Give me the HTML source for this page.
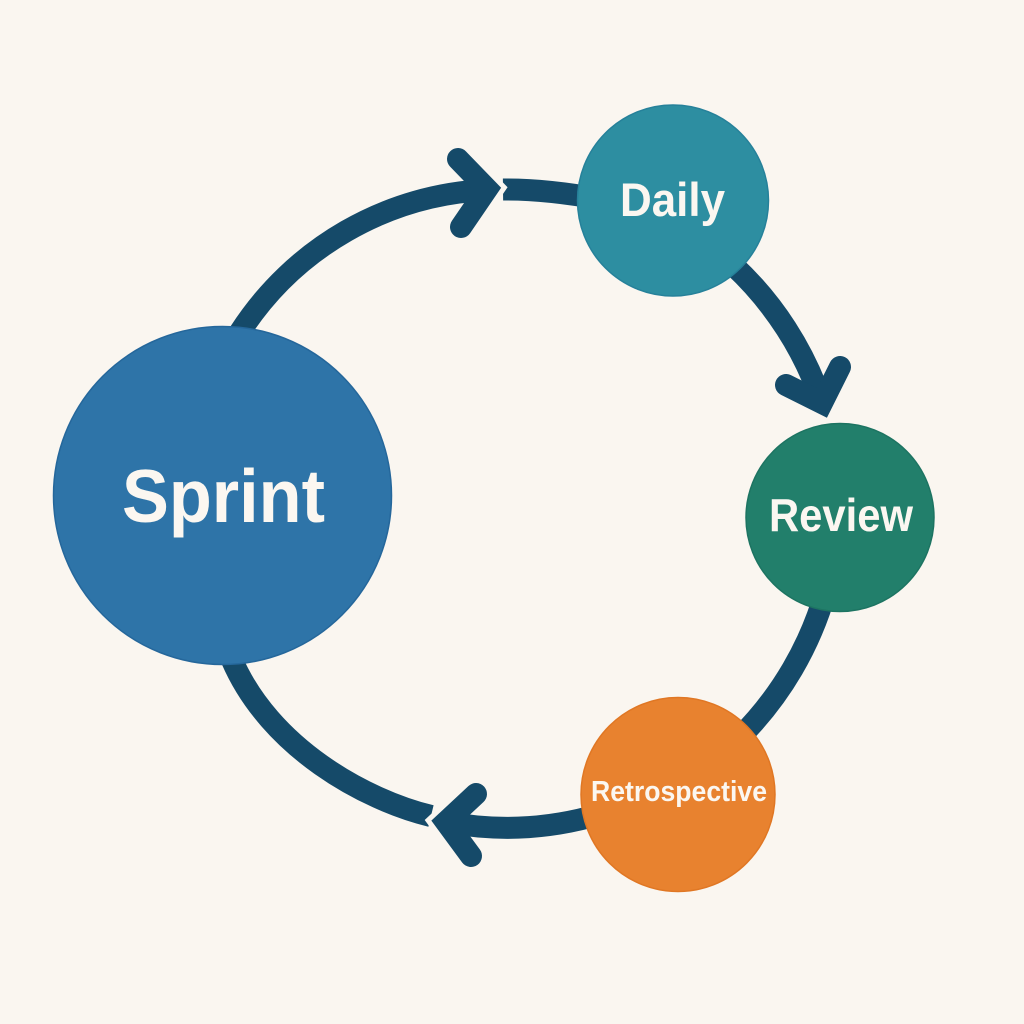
<!DOCTYPE html>
<html>
<head>
<meta charset="utf-8">
<style>
  html, body { margin:0; padding:0; background:#FAF6F0; }
  svg { display:block; }
  text { font-family: "Liberation Sans", "DejaVu Sans", sans-serif; font-weight:bold; fill:#FBF7F1; }
</style>
</head>
<body>
<svg width="1024" height="1024" viewBox="0 0 1024 1024" xmlns="http://www.w3.org/2000/svg">
  <rect width="1024" height="1024" fill="#FAF6F0"/>

  <g fill="none" stroke="#154A69" stroke-width="22">
    <!-- segment after top arrowhead to Daily -->
    <path d="M 503 189.5 Q 545 189 600 199"/>
    <!-- segment after bottom arrowhead to Sprint -->
    <path d="M 431 816 C 365 800, 270 748, 232 660"/>
  </g>

  <!-- halos to create notch gaps -->
  <g fill="none" stroke="#FAF6F0" stroke-width="32" stroke-linejoin="miter" stroke-miterlimit="10" stroke-linecap="round">
    <polyline points="458,159 487,189 461,227"/>
    <polyline points="476,794 446,822 471,856"/>
  </g>

  <g fill="none" stroke="#154A69" stroke-width="22">
    <!-- A: Sprint top to top arrowhead -->
    <path d="M 240 332 A 311 311 0 0 1 487 190"/>
    <!-- C: Daily to Review arrowhead -->
    <path d="M 733 265 A 333 333 0 0 1 822 403"/>
    <!-- D: Review to Retrospective -->
    <path d="M 826 590 A 336 336 0 0 1 740 737"/>
    <!-- E: Retrospective to bottom arrowhead -->
    <path d="M 590 817 A 327 327 0 0 1 446 822"/>
  </g>

  <!-- arrowheads -->
  <g fill="none" stroke="#154A69" stroke-width="22" stroke-linejoin="miter" stroke-miterlimit="10" stroke-linecap="round">
    <polyline points="458,159 487,189 461,227"/>
    <polyline points="840,367 822,403 786,385"/>
    <polyline points="476,794 446,822 471,856"/>
  </g>

  <!-- circles -->
  <circle cx="222.5" cy="495.5" r="169" fill="#2E74A8" stroke="#25679B" stroke-width="1.5"/>
  <circle cx="673" cy="200.5" r="95.5" fill="#2D8EA1" stroke="#26819A" stroke-width="1.5"/>
  <circle cx="840" cy="517.5" r="94" fill="#227F6B" stroke="#1D7462" stroke-width="1.5"/>
  <circle cx="678" cy="794.5" r="97" fill="#E8822F" stroke="#E07724" stroke-width="1.5"/>

  <!-- labels -->
  <text x="122" y="522" font-size="75" textLength="203" lengthAdjust="spacingAndGlyphs">Sprint</text>
  <text x="620" y="216" font-size="47" textLength="105" lengthAdjust="spacingAndGlyphs">Daily</text>
  <text x="769" y="531" font-size="46" textLength="144" lengthAdjust="spacingAndGlyphs">Review</text>
  <text x="591" y="801" font-size="29" textLength="176" lengthAdjust="spacingAndGlyphs">Retrospective</text>
</svg>
</body>
</html>
